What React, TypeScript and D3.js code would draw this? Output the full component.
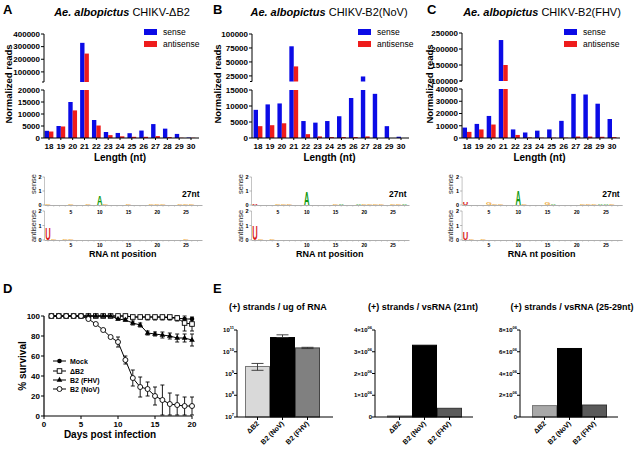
import React from 'react';
import * as d3 from 'd3';

// ---- data ----
const lengths = [18, 19, 20, 21, 22, 23, 24, 25, 26, 27, 28, 29, 30];
const aSense = [3000, 5000, 15000, 330000, 7500, 2500, 2100, 2000, 3100, 5800, 3900, 1700, 200];
const aAnti = [2700, 4800, 11500, 245000, 5200, 1200, 700, 500, 500, 800, 400, 100, 100];
const bSense = [8800, 10500, 10800, 78000, 5300, 4800, 5300, 6800, 12500, 24000, 13800, 3700, 400];
const bAnti = [3700, 4000, 4600, 42000, 1200, 500, 300, 300, 300, 500, 0, 0, 0];
const cSense = [8500, 11500, 18000, 228000, 7000, 4500, 6000, 7000, 14000, 36000, 35500, 28000, 15500];
const cAnti = [5000, 7000, 11000, 150000, 2500, 500, 300, 300, 300, 1200, 1200, 1000, 700];

// logo stacks: [position, letter, bits]
type Stack = [number, string, number];
const aLogoSense: Stack[] = [[1, 'G', 0.08], [5, 'G', 0.1], [8, 'G', 0.08], [10, 'A', 0.7], [11, 'G', 0.07], [15, 'G', 0.08], [19, 'G', 0.05], [20, 'G', 0.05], [21, 'G', 0.05], [24, 'G', 0.06], [25, 'G', 0.06], [26, 'G', 0.07]];
const aLogoAnti: Stack[] = [[1, 'U', 0.8], [2, 'G', 0.07], [4, 'G', 0.07], [5, 'G', 0.05], [25, 'G', 0.05]];
const bLogoSense: Stack[] = [[1, 'U', 0.06], [5, 'G', 0.12], [6, 'G', 0.05], [7, 'G', 0.04], [10, 'A', 0.95], [15, 'G', 0.08], [16, 'A', 0.08], [19, 'A', 0.06], [20, 'G', 0.04], [21, 'G', 0.04], [22, 'G', 0.04], [23, 'G', 0.04], [25, 'G', 0.06], [26, 'G', 0.13], [27, 'A', 0.08]];
const bLogoAnti: Stack[] = [[1, 'U', 1.05], [2, 'G', 0.1], [4, 'G', 0.08]];
const cLogoSense: Stack[] = [[1, 'U', 0.15], [5, 'G', 0.15], [6, 'G', 0.06], [7, 'G', 0.05], [10, 'A', 1.05], [11, 'G', 0.05], [15, 'G', 0.15], [16, 'A', 0.1], [21, 'G', 0.04], [22, 'G', 0.04], [23, 'G', 0.04], [24, 'A', 0.1], [25, 'A', 0.12], [26, 'G', 0.06]];
const cLogoAnti: Stack[] = [[1, 'U', 0.55], [2, 'G', 0.05], [4, 'G', 0.06]];

// survival
const days = d3.range(1, 21);
const survMock = [100, 100, 100, 100, 100, 100, 100, 100, 100, 100, 100, 99, 99, 99, 99, 99, 98, 98, 97, 97];
const survDB2 = [100, 100, 100, 100, 100, 100, 100, 100, 100, 100, 100, 99, 99, 99, 99, 99, 99, 98, 93, 92];
const errDB2 = [0, 0, 0, 0, 0, 0, 0, 0, 0, 0, 0, 0, 0, 3, 3, 3, 3, 3, 8, 7];
const survFHV = [100, 100, 100, 100, 100, 100, 100, 100, 100, 97, 96, 93, 91, 83, 82, 81, 80, 78, 78, 76];
const errFHV = [0, 0, 0, 0, 0, 0, 0, 0, 0, 1, 1, 2, 2, 2, 2, 3, 3, 4, 4, 6];
const survNoV = [100, 100, 100, 100, 100, 97, 92, 86, 79, 74, 56, 38, 29, 27, 20, 16, 12, 11, 10, 10];
const errNoV = [0, 0, 0, 0, 0, 0, 0, 0, 0, 5, 4, 8, 10, 7, 9, 15, 11, 10, 9, 9];
const survTicksX = [0, 5, 10, 15, 20];
const survTicksY = [0, 20, 40, 60, 80, 100];

// qPCR
const groups = ['ΔB2', 'B2 (NoV)', 'B2 (FHV)'];
const perUg = [2.1e9, 4.5e10, 1.5e10];
const perUgLo = [1.4e9, 4.5e10, 1.4e10];
const perUgHi = [2.9e9, 6.0e10, 1.6e10];
const per21 = [0.05e6, 3.3e6, 0.4e6];
const per2529 = [1.05e6, 6.3e6, 1.1e6];

const FONT = '"Liberation Sans", Arial, sans-serif';
const SENSE = '#0b0be6';
const ANTI = '#ee1c1c';

const fmtK = (v: number) => String(v);

type ReadsProps = {
  axisX: number; c0: number; c1: number; xEnd: number;
  upDom: [number, number]; upRange: [number, number]; upTicks: number[];
  loMax: number; loTop: number; loTicks: number[];
  sense: number[]; anti: number[];
  letter: string; letterX: number; titleX: number; subtitle: string;
  legendX: number; yLabelX: number;
};

function ReadsPanel(p: ReadsProps) {
  const bottom = 138;
  const x = d3.scalePoint<number>().domain(lengths).range([p.c0, p.c1]);
  const step = x.step();
  const bw = step * 0.37;
  const yUp = d3.scaleLinear().domain(p.upDom).range(p.upRange);
  const yLo = d3.scaleLinear().domain([0, p.loMax]).range([bottom, p.loTop]);
  const bars = (vals: number[], off: number, color: string) =>
    vals.map((v, i) => {
      const cx = x(lengths[i])! + off;
      const lo = Math.min(v, p.loMax);
      const parts = [
        <rect key={'l' + i} x={cx} y={yLo(lo)} width={bw} height={bottom - yLo(lo)} fill={color} />,
      ];
      if (v > p.loMax) {
        const top = yUp(v);
        parts.push(<rect key={'u' + i} x={cx} y={top} width={bw} height={p.upRange[0] - top} fill={color} />);
      }
      return parts;
    });
  return (
    <g fontFamily={FONT}>
      <text x={p.letterX} y={13.5} fontSize={13} fontWeight="bold">{p.letter}</text>
      <text x={p.titleX} y={16} fontSize={11} textAnchor="middle">
        <tspan fontWeight="bold" fontStyle="italic">Ae. albopictus</tspan>
        <tspan> {p.subtitle}</tspan>
      </text>
      {bars(p.sense, -bw, SENSE)}
      {bars(p.anti, 0, ANTI)}
      {/* axes */}
      <line x1={p.axisX} x2={p.axisX} y1={p.upRange[1]} y2={p.upRange[0]} stroke="#000" strokeWidth={1} />
      <line x1={p.axisX} x2={p.axisX} y1={p.loTop} y2={bottom} stroke="#000" strokeWidth={1} />
      <line x1={p.axisX - 2} x2={p.axisX} y1={p.upRange[0]} y2={p.upRange[0]} stroke="#000" />
      <line x1={p.axisX} x2={p.xEnd} y1={bottom} y2={bottom} stroke="#000" strokeWidth={1} />
      {p.upTicks.map(t => (
        <g key={'ut' + t}>
          <line x1={p.axisX - 3} x2={p.axisX} y1={yUp(t)} y2={yUp(t)} stroke="#000" />
          <text x={p.axisX - 4} y={yUp(t) + 2.8} fontSize={8} fontWeight="bold" textAnchor="end">{fmtK(t)}</text>
        </g>
      ))}
      {p.loTicks.map(t => (
        <g key={'lt' + t}>
          <line x1={p.axisX - 3} x2={p.axisX} y1={yLo(t)} y2={yLo(t)} stroke="#000" />
          <text x={p.axisX - 4} y={yLo(t) + 2.8} fontSize={8} fontWeight="bold" textAnchor="end">{fmtK(t)}</text>
        </g>
      ))}
      {lengths.map(l => (
        <g key={'xt' + l}>
          <line x1={x(l)} x2={x(l)} y1={bottom} y2={bottom + 2} stroke="#000" />
          <text x={x(l)} y={149} fontSize={8} fontWeight="bold" textAnchor="middle">{l}</text>
        </g>
      ))}
      <text x={(p.c0 + p.c1) / 2} y={161} fontSize={10} fontWeight="bold" textAnchor="middle">Length (nt)</text>
      <text transform={`translate(${p.yLabelX},84) rotate(-90)`} fontSize={9.5} fontWeight="bold" textAnchor="middle" dy="0.35em">Normalized reads</text>
      <rect x={p.legendX} y={29} width={13} height={6} fill={SENSE} />
      <rect x={p.legendX} y={41} width={13} height={6} fill={ANTI} />
      <text x={p.legendX + 19} y={35} fontSize={8.5}>sense</text>
      <text x={p.legendX + 19} y={47} fontSize={8.5}>antisense</text>
    </g>
  );
}

const letterColor: Record<string, string> = { A: '#109a10', C: '#2040d0', G: '#f0a830', U: '#d81818' };

type LogoProps = { pos1: number; step: number; sense: Stack[]; anti: Stack[] };

function LogoPanel(p: LogoProps) {
  const x = d3.scaleLinear().domain([1, 27]).range([p.pos1, p.pos1 + 26 * p.step]);
  const yS = d3.scaleLinear().domain([0, 2]).range([205, 177]);
  const yA = d3.scaleLinear().domain([0, 2]).range([240, 211]);
  const axisX = p.pos1 - 3.5;
  const end = x(27) + 5;
  const cap = 8 * 0.729;
  const letters = (st: Stack[], y: d3.ScaleLinear<number, number>, k: string) =>
    st.map(([pos, l, h]) => {
      const px = y(0) - y(h);
      return (
        <text key={k + pos} transform={`translate(${x(pos)},${y(0)}) scale(0.95,${px / cap})`} fontSize={8} fontWeight="bold"
          textAnchor="middle" fill={letterColor[l]}>{l}</text>
      );
    });
  const axis = (y: d3.ScaleLinear<number, number>, k: string, label: string, labelY: number, tickY: number) => (
    <g key={k}>
      <line x1={axisX} x2={axisX} y1={y(2)} y2={y(0)} stroke="#aaa" strokeWidth={0.7} />
      <line x1={axisX} x2={end} y1={y(0) + 0.5} y2={y(0) + 0.5} stroke="#999" strokeWidth={0.8} />
      {[0, 1, 2].map(t => (
        <g key={t}>
          <line x1={axisX - 2} x2={axisX} y1={y(t)} y2={y(t)} stroke="#888" strokeWidth={0.6} />
          <text x={axisX - 3} y={y(t) + 2} fontSize={5.5} fontWeight="bold" textAnchor="end">{t}</text>
        </g>
      ))}
      {d3.range(1, 28).map(t => (
        <line key={'m' + t} x1={x(t)} x2={x(t)} y1={y(0) + 0.5} y2={y(0) + 1.8} stroke="#aaa" strokeWidth={0.5} />
      ))}
      {[5, 10, 15, 20, 25].map(t => (
        <text key={'x' + t} x={x(t)} y={tickY} fontSize={5} fontWeight="bold" textAnchor="middle">{t}</text>
      ))}
      <text transform={`translate(${axisX - 9},${labelY}) rotate(-90)`} fontSize={7.5} textAnchor="middle" fill="#222">{label}</text>
    </g>
  );
  return (
    <g fontFamily={FONT}>
      {axis(yS, 's', 'sense', 184, 213.5)}
      {axis(yA, 'a', 'antisense', 226, 247)}
      {letters(p.sense, yS, 's')}
      {letters(p.anti, yA, 'a')}
      <text x={end - 3} y={197} fontSize={8.5} fontWeight="bold" textAnchor="end">27nt</text>
      <text x={(x(1) + x(27)) / 2} y={257} fontSize={9} fontWeight="bold" textAnchor="middle">RNA nt position</text>
    </g>
  );
}

function Marker({ kind, cx, cy }: { kind: string; cx: number; cy: number }) {
  if (kind === 'circle') return <circle cx={cx} cy={cy} r={2.3} fill="#000" />;
  if (kind === 'square') return <rect x={cx - 2.3} y={cy - 2.3} width={4.6} height={4.6} fill="#fff" stroke="#000" strokeWidth={0.9} />;
  if (kind === 'tri') return <path d={d3.symbol(d3.symbolTriangle, 14)()!} transform={`translate(${cx},${cy})`} fill="#000" />;
  return <circle cx={cx} cy={cy} r={2.5} fill="#fff" stroke="#000" strokeWidth={0.9} />;
}

function SurvivalPanel() {
  const x = d3.scaleLinear().domain([0, 20]).range([44, 192]);
  const y = d3.scaleLinear().domain([0, 100]).range([416, 316]);
  const series = [
    { name: 'Mock', vals: survMock, err: null as number[] | null, kind: 'circle' },
    { name: 'ΔB2', vals: survDB2, err: errDB2, kind: 'square' },
    { name: 'B2 (FHV)', vals: survFHV, err: errFHV, kind: 'tri' },
    { name: 'B2 (NoV)', vals: survNoV, err: errNoV, kind: 'open' },
  ];
  const line = d3.line<number>().x((_, i) => x(days[i])).y(v => y(v));
  const legendY = [361, 371, 380, 389];
  return (
    <g fontFamily={FONT}>
      <text x={3} y={293} fontSize={13} fontWeight="bold">D</text>
      {series.map(s => s.err && s.err.map((e, i) => e > 0 && (
        <g key={s.name + 'e' + i} stroke="#000" strokeWidth={0.9}>
          <line x1={x(days[i])} x2={x(days[i])} y1={y(Math.max(0, s.vals[i] - e))} y2={y(Math.min(100, s.vals[i] + e))} />
          <line x1={x(days[i]) - 2} x2={x(days[i]) + 2} y1={y(Math.max(0, s.vals[i] - e))} y2={y(Math.max(0, s.vals[i] - e))} />
          <line x1={x(days[i]) - 2} x2={x(days[i]) + 2} y1={y(Math.min(100, s.vals[i] + e))} y2={y(Math.min(100, s.vals[i] + e))} />
        </g>
      )))}
      {series.map(s => (
        <g key={s.name}>
          <path d={line(s.vals)!} fill="none" stroke="#000" strokeWidth={1} />
          {s.vals.map((v, i) => <Marker key={i} kind={s.kind} cx={x(days[i])} cy={y(v)} />)}
        </g>
      ))}
      <line x1={44} x2={44} y1={y(100)} y2={y(0)} stroke="#000" strokeWidth={1.2} />
      <line x1={44} x2={192} y1={y(0)} y2={y(0)} stroke="#000" strokeWidth={1.2} />
      {survTicksY.map(t => (
        <g key={'y' + t}>
          <line x1={41} x2={44} y1={y(t)} y2={y(t)} stroke="#000" />
          <text x={40} y={y(t) + 2.8} fontSize={8} fontWeight="bold" textAnchor="end">{t}</text>
        </g>
      ))}
      {survTicksX.map(t => (
        <g key={'x' + t}>
          <line x1={x(t)} x2={x(t)} y1={y(0)} y2={y(0) + 3} stroke="#000" />
          <text x={x(t)} y={427} fontSize={8} fontWeight="bold" textAnchor="middle">{t}</text>
        </g>
      ))}
      <text x={110} y={438} fontSize={10} fontWeight="bold" textAnchor="middle">Days post infection</text>
      <text transform="translate(22,366) rotate(-90)" fontSize={10} fontWeight="bold" textAnchor="middle" dy="0.35em">% survival</text>
      {series.map((s, i) => (
        <g key={'lg' + s.name}>
          <line x1={53} x2={66} y1={legendY[i]} y2={legendY[i]} stroke="#000" />
          <Marker kind={s.kind} cx={59.5} cy={legendY[i]} />
          <text x={70} y={legendY[i] + 2.5} fontSize={7} fontWeight="bold">{s.name}</text>
        </g>
      ))}
    </g>
  );
}

type QProps = {
  title: string; titleX: number; axisX: number; b0: number; b1: number; xEnd: number;
  y: d3.ScaleContinuousNumeric<number, number>; ticks: number[]; tickLabel: (t: number) => React.ReactNode;
  vals: number[]; fills: string[]; strokes: string[]; lo?: number[]; hi?: number[];
};

function QPanel(p: QProps) {
  const x = d3.scaleBand().domain(groups).range([p.b0, p.b1]).padding(0);
  const base = 417;
  return (
    <g fontFamily={FONT}>
      <text x={p.titleX} y={310} fontSize={9} fontWeight="bold" textAnchor="middle">{p.title}</text>
      {p.vals.map((v, i) => (
        <rect key={i} x={x(groups[i])! + 0.5} y={p.y(v)} width={x.bandwidth() - 1} height={base - p.y(v)}
          fill={p.fills[i]} stroke={p.strokes[i]} strokeWidth={1} />
      ))}
      {p.lo && p.hi && p.vals.map((_, i) => {
        const cx = x(groups[i])! + x.bandwidth() / 2;
        return (
          <g key={'e' + i} stroke="#333" strokeWidth={0.9}>
            <line x1={cx} x2={cx} y1={p.y(p.lo![i])} y2={p.y(p.hi![i])} />
            <line x1={cx - 6} x2={cx + 6} y1={p.y(p.hi![i])} y2={p.y(p.hi![i])} />
            <line x1={cx - 6} x2={cx + 6} y1={p.y(p.lo![i])} y2={p.y(p.lo![i])} />
          </g>
        );
      })}
      <line x1={p.axisX} x2={p.axisX} y1={330} y2={base} stroke="#000" strokeWidth={1} />
      <line x1={p.axisX} x2={p.xEnd} y1={base} y2={base} stroke="#000" strokeWidth={1} />
      {p.ticks.map(t => (
        <g key={'t' + t}>
          <line x1={p.axisX - 3} x2={p.axisX} y1={p.y(t)} y2={p.y(t)} stroke="#000" />
          <text x={p.axisX - 3} y={p.y(t) + 2} fontSize={6} fontWeight="bold" textAnchor="end">{p.tickLabel(t)}</text>
        </g>
      ))}
      {groups.map(g => {
        const cx = x(g)! + x.bandwidth() / 2;
        return (
          <g key={g}>
            <line x1={cx} x2={cx} y1={base} y2={base + 3} stroke="#000" />
            <text transform={`translate(${cx + 2},${base + 7}) rotate(-45)`} fontSize={7} fontWeight="bold" textAnchor="end">{g}</text>
          </g>
        );
      })}
    </g>
  );
}

const logLabel = (t: number) => {
  const e = Math.round(Math.log10(t));
  return (<><tspan>10</tspan><tspan dy={-3} fontSize={4}>{e}</tspan></>);
};
const sciLabel = (t: number) => t === 0 ? '0' : (<><tspan>{t / 1e6}×10</tspan><tspan dy={-3} fontSize={4}>06</tspan></>);

export default function App() {
  return (
    <svg width={640} height={450} style={{ position: 'absolute', left: 0, top: 0, background: '#fff' }}>
      <rect width={640} height={450} fill="#fff" />
      <ReadsPanel axisX={44} c0={49} c1={191} xEnd={199} upDom={[20000, 400000]} upRange={[82, 34]}
        upTicks={[100000, 200000, 300000, 400000]} loMax={20000} loTop={90} loTicks={[0, 5000, 10000, 15000, 20000]}
        sense={aSense} anti={aAnti} letter="A" letterX={3} titleX={122} subtitle="CHIKV-ΔB2" legendX={144} yLabelX={9} />
      <ReadsPanel axisX={252} c0={258} c1={401} xEnd={409} upDom={[15000, 100000]} upRange={[81.5, 34]}
        upTicks={[25000, 50000, 75000, 100000]} loMax={15000} loTop={90} loTicks={[0, 5000, 10000, 15000]}
        sense={bSense} anti={bAnti} letter="B" letterX={213} titleX={329} subtitle="CHIKV-B2(NoV)" legendX={358} yLabelX={218} />
      <ReadsPanel axisX={462} c0={467} c1={612} xEnd={620} upDom={[100000, 250000]} upRange={[81, 33]}
        upTicks={[100000, 150000, 200000, 250000]} loMax={40000} loTop={89} loTicks={[0, 10000, 20000, 30000, 40000]}
        sense={cSense} anti={cAnti} letter="C" letterX={427} titleX={542} subtitle="CHIKV-B2(FHV)" legendX={564} yLabelX={430} />
      <LogoPanel pos1={48} step={5.75} sense={aLogoSense} anti={aLogoAnti} />
      <LogoPanel pos1={255} step={5.75} sense={bLogoSense} anti={bLogoAnti} />
      <LogoPanel pos1={465.6} step={5.85} sense={cLogoSense} anti={cLogoAnti} />
      <SurvivalPanel />
      <text x={213} y={293} fontSize={13} fontWeight="bold" fontFamily={FONT}>E</text>
      <QPanel title="(+) strands / ug of RNA" titleX={278} axisX={237} b0={245} b1={320} xEnd={333}
        y={d3.scaleLog().domain([1e7, 1e11]).range([417, 330])} ticks={[1e7, 1e8, 1e9, 1e10, 1e11]} tickLabel={logLabel}
        vals={perUg} lo={perUgLo} hi={perUgHi} fills={['#d9d9d9', '#000', '#808080']} strokes={['#777', '#000', '#444']} />
      <QPanel title="(+) strands / vsRNA (21nt)" titleX={423} axisX={375} b0={387} b1={462} xEnd={473}
        y={d3.scaleLinear().domain([0, 4e6]).range([417, 330])} ticks={[0, 1e6, 2e6, 3e6, 4e6]} tickLabel={sciLabel}
        vals={per21} fills={['#bbb', '#000', '#5a5a5a']} strokes={['#777', '#000', '#333']} />
      <QPanel title="(+) strands / vsRNA (25-29nt)" titleX={572} axisX={520} b0={532} b1={607} xEnd={618}
        y={d3.scaleLinear().domain([0, 8e6]).range([417, 330])} ticks={[0, 2e6, 4e6, 6e6, 8e6]} tickLabel={sciLabel}
        vals={per2529} fills={['#a8a8a8', '#000', '#5a5a5a']} strokes={['#777', '#000', '#333']} />
    </svg>
  );
}
